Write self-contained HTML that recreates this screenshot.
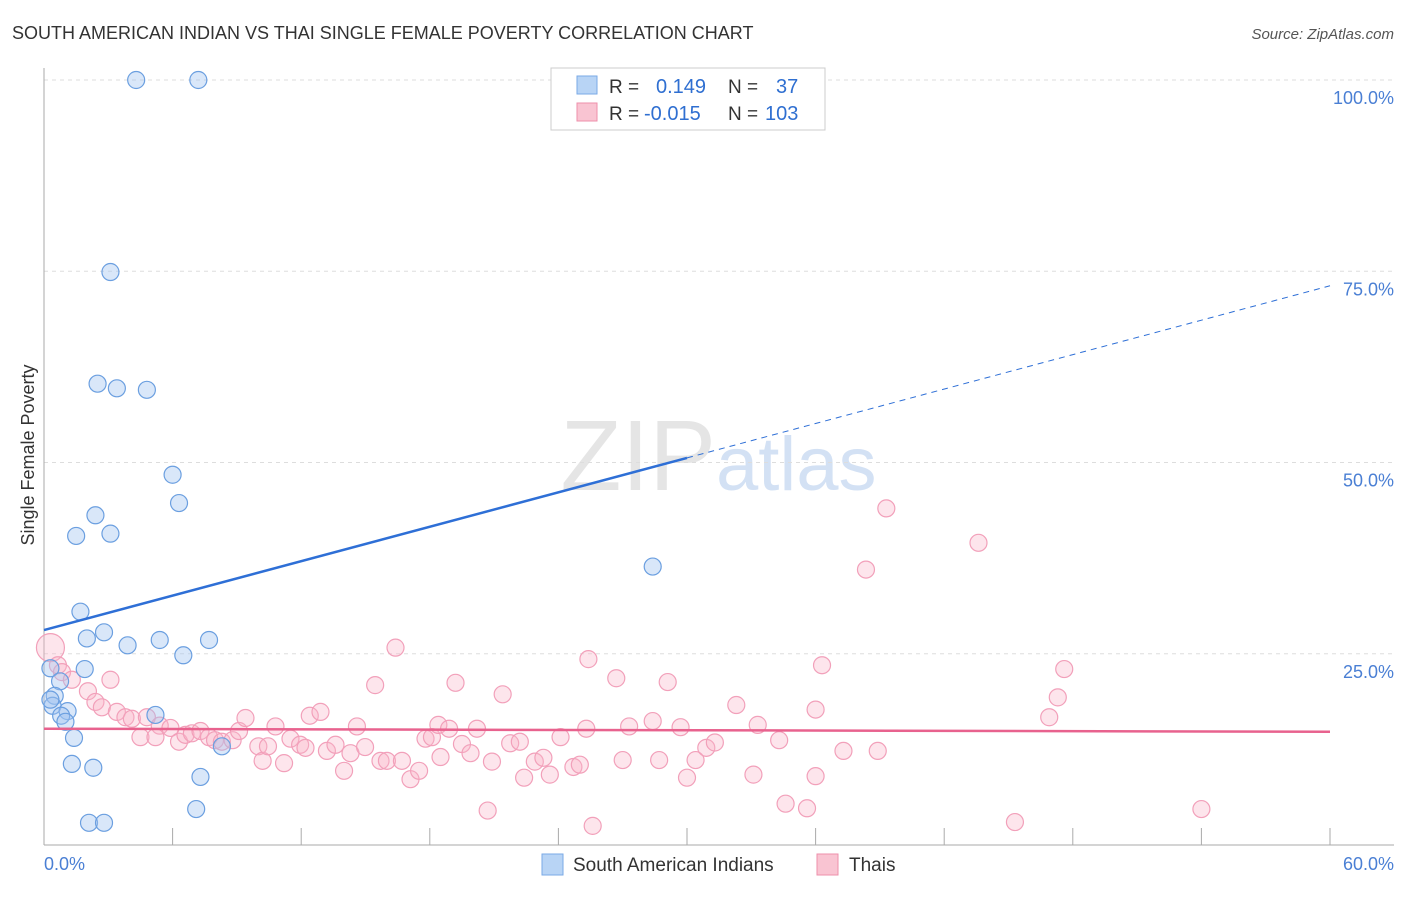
<!DOCTYPE html>
<html><head><meta charset="utf-8"><style>
body{margin:0;background:#fff;font-family:"Liberation Sans",sans-serif;}
svg text{font-family:"Liberation Sans",sans-serif;}
</style></head><body>
<svg id="c" width="1406" height="892">
<text x="12" y="39" font-size="18" fill="#333">SOUTH AMERICAN INDIAN VS THAI SINGLE FEMALE POVERTY CORRELATION CHART</text>
<text x="1394" y="39" font-size="15" fill="#555" font-style="italic" text-anchor="end">Source: ZipAtlas.com</text>
<text x="716" y="490" font-size="100" fill="#ccc" opacity="0.5" text-anchor="end" font-family="Liberation Serif">ZIP</text>
<text x="716" y="490" font-size="76" fill="#a9c4ea" opacity="0.5">atlas</text>
<text transform="translate(34,455) rotate(-90)" font-size="18" fill="#333" text-anchor="middle">Single Female Poverty</text>
<g id="grid"></g><g id="pts"></g><g id="trend"></g>
<g>
<rect x="551" y="68" width="274" height="62" fill="#fff" stroke="#ccc"/>
<rect x="577" y="76" width="20" height="18" fill="#b8d4f5" stroke="#7aaae6"/>
<rect x="577" y="103" width="20" height="18" fill="#f9c4d2" stroke="#ee8fab"/>
<text x="609" y="93" font-size="19" fill="#333">R = </text><text x="656" y="93" font-size="20" fill="#2f6fd1">0.149</text>
<text x="728" y="93" font-size="19" fill="#333">N = </text><text x="776" y="93" font-size="20" fill="#2f6fd1">37</text>
<text x="609" y="120" font-size="19" fill="#333">R = </text><text x="644" y="120" font-size="20" fill="#2f6fd1">-0.015</text>
<text x="728" y="120" font-size="19" fill="#333">N = </text><text x="765" y="120" font-size="20" fill="#2f6fd1">103</text>
</g>
<g>
<rect x="542" y="854" width="21" height="21" fill="#b8d4f5" stroke="#7aaae6"/>
<text x="573" y="871" font-size="19" fill="#333">South American Indians</text>
<rect x="817" y="854" width="21" height="21" fill="#f9c4d2" stroke="#ee8fab"/>
<text x="849" y="871" font-size="19" fill="#333">Thais</text>
</g>
<text x="44" y="870" font-size="18" fill="#4a7fd4">0.0%</text>
<text x="1394" y="870" font-size="18" fill="#4a7fd4" text-anchor="end">60.0%</text>
</svg>
<script>
const yTicks=[100,75,50,25];
const yTickLabels=["100.0%","75.0%","50.0%","25.0%"];
const blueX=[4.3,7.2,3.1,2.5,3.4,4.8,6.0,6.3,2.4,1.5,3.1,28.4,1.7,2.0,2.8,3.9,5.4,7.7,6.5,0.3,1.9,0.75,0.5,0.4,1.1,0.8,1.0,5.2,1.4,8.3,1.3,2.3,7.3,7.1,2.1,2.8,0.3];
const blueY=[100,100,74.9,60.3,59.7,59.5,48.4,44.7,43.1,40.4,40.7,36.4,30.5,27.0,27.8,26.1,26.8,26.8,24.8,23.1,23.0,21.4,19.5,18.2,17.5,16.9,16.1,17.0,14.0,12.9,10.6,10.1,8.9,4.7,2.9,2.9,19.0];
const pinkX=[0.3,0.65,0.84,1.3,3.1,2.05,2.4,2.7,3.4,3.8,4.1,4.8,5.4,5.9,4.5,5.2,6.3,6.6,6.9,7.3,7.7,7.98,8.3,8.8,9.1,9.4,10.0,10.2,10.45,10.8,11.2,11.5,11.95,12.2,12.4,12.9,13.2,13.6,14.0,14.6,14.3,14.98,15.45,15.7,16.0,16.4,16.7,17.1,17.5,17.8,18.1,18.4,18.9,19.2,19.5,19.9,20.2,20.9,21.4,21.75,22.2,22.4,22.9,23.3,23.6,24.1,24.7,25.0,25.6,25.3,25.4,26.7,27.0,27.3,28.4,28.7,29.1,29.7,30.0,30.4,30.9,31.3,32.3,33.1,33.3,34.3,34.6,35.6,36.0,36.0,36.3,37.3,38.35,38.9,39.3,43.6,45.3,46.9,47.3,47.6,54.0,20.7,18.5];
const pinkY=[25.8,23.5,22.6,21.6,21.6,20.1,18.7,18.0,17.4,16.7,16.5,16.7,15.6,15.3,14.1,14.1,13.5,14.4,14.6,14.9,14.1,13.7,13.5,13.7,14.9,16.6,12.9,11.0,12.9,15.5,10.7,13.9,13.1,12.7,16.9,17.4,12.3,13.1,9.7,15.5,12.0,12.8,20.9,11.0,11.0,25.8,11.0,8.6,9.7,13.9,14.1,15.7,15.2,21.2,13.2,12.0,15.2,10.9,19.7,13.3,13.5,8.8,10.9,11.4,9.2,14.1,10.2,10.5,2.5,15.2,24.3,21.8,11.1,15.5,16.2,11.1,21.3,15.4,8.8,11.1,12.7,13.4,18.3,9.2,15.7,13.7,5.4,4.8,9.0,17.7,23.5,12.3,36.0,12.3,44.0,39.5,3.0,16.7,19.3,23.0,4.7,4.5,11.5];
const X0=44,X1=1330,Y0=845,Y100=80;
const sx=v=>X0+(X1-X0)*v/60, sy=v=>Y0-(Y0-Y100)*v/100;
const NS="http://www.w3.org/2000/svg";
function mk(t,a,p){const e=document.createElementNS(NS,t);for(const k in a)e.setAttribute(k,a[k]);p.appendChild(e);return e;}
const g=document.getElementById('grid');
yTicks.forEach((t,i)=>{
 const l=mk('line',{x1:X0,x2:1394,y1:sy(t),y2:sy(t),stroke:'#ddd','stroke-dasharray':'4,4'},g);
 
 
 const tx=mk('text',{x:1394,y:sy(t)+24,'font-size':18,fill:'#4a7fd4','text-anchor':'end'},g);
 tx.textContent=yTickLabels[i];
 
 
});
mk('line',{x1:X0,x2:X0,y1:68,y2:Y0,stroke:'#aaa'},g);
mk('line',{x1:X0,x2:1394,y1:Y0,y2:Y0,stroke:'#aaa'},g);
for(let i=0;i<=10;i++){mk('line',{x1:sx(i*6),x2:sx(i*6),y1:828,y2:Y0,stroke:'#aaa'},g);}
const p=document.getElementById('pts');
pinkX.forEach((x,i)=>{
 const c=mk('circle',{cx:sx(x),cy:sy(pinkY[i]),r:i==0?14:8.5,fill:'rgba(248,180,200,0.35)',stroke:'#f2a0ba','stroke-width':1.2},p);
 
 
});
blueX.forEach((x,i)=>{
 const c=mk('circle',{cx:sx(x),cy:sy(blueY[i]),r:8.5,fill:'rgba(160,196,240,0.4)',stroke:'#6b9fe0','stroke-width':1.2},p);
 
 
});
const tr=document.getElementById('trend');
const bA=28.1,bB=0.75;
const b1=mk('line',{x1:sx(0),y1:sy(bA),x2:sx(30),y2:sy(bA+bB*30),stroke:'#2e6fd6','stroke-width':2.5},tr);


const b2=mk('line',{x1:sx(30),y1:sy(bA+bB*30),x2:sx(60),y2:sy(bA+bB*60),stroke:'#2e6fd6','stroke-width':1,'stroke-dasharray':'6,5'},tr);


const pk=mk('line',{x1:sx(0),y1:sy(15.2),x2:sx(60),y2:sy(14.8),stroke:'#e8628e','stroke-width':2.5},tr);


</script>
</body></html>
